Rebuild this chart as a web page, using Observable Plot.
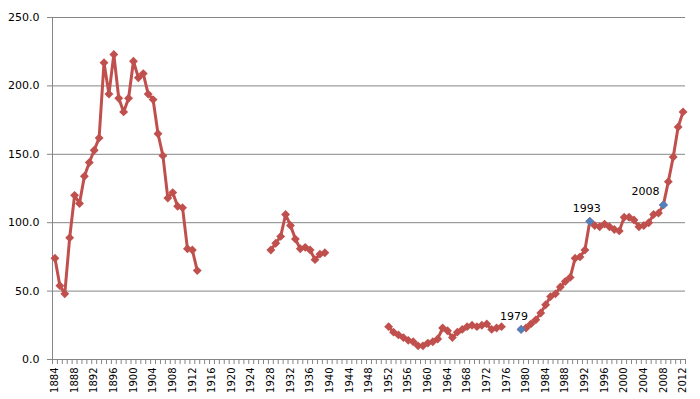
<!DOCTYPE html>
<html><head><meta charset="utf-8">
<script src="https://cdn.jsdelivr.net/npm/d3@7"></script>
<script src="https://cdn.jsdelivr.net/npm/@observablehq/plot@0.6"></script>
<style>body{margin:0;background:#fff} svg{display:block}</style>
</head><body><div id="chart"></div>
<script>
const years = d3.range(1884, 2013);
const values = [
  74, 54, 48, 89, 120, 114, 134, 144, 153, 162,
  217, 194, 223, 191, 181, 191, 218, 206, 209, 194,
  190, 165, 149, 118, 122, 112, 111, 81, 80, 65,
  null, null, null, null, null, null, null, null, null, null, null, null, null, null,
  80, 85, 90, 106, 98, 88, 81, 82, 80, 73, 77, 78,
  null, null, null, null, null, null, null, null, null, null, null, null,
  24, 20, 18, 16, 14, 13, 10, 10, 12, 13, 15, 23,
  21, 16, 20, 22, 24, 25, 24, 25, 26, 22, 23, 24,
  null, null, null,
  22, 23, 26, 29, 34, 40, 46, 48, 53, 57, 60, 74, 75, 80,
  101, 98, 97, 99, 97, 95, 94, 104, 104, 102, 97, 98, 100, 106, 107,
  113, 130, 148, 170, 181
];
const highlightYears = [1979, 1993, 2008];
const tickYears = d3.range(1884, 2013, 4);
const yTicks = [0, 50, 100, 150, 200, 250];

const data = years.map((year, i) => ({year, value: values[i]}));
const hl = data.filter(d => highlightYears.includes(d.year));
const red = "#C0504D", blue = "#4F81BD", grid = "#868686";
const bounds = d3.range(1883.5, 2013, 1);

const label = (yr, dx) => Plot.text(hl.filter(d => d.year === yr), {
  x: "year", y: "value", text: d => String(d.year), dx, dy: -13, fontSize: 11, fill: "black"
});

const chart = Plot.plot({
  width: 700, height: 399,
  marginLeft: 52, marginRight: 15, marginTop: 17, marginBottom: 40,
  style: {fontFamily: "DejaVu Sans", background: "#fff", color: "black"},
  x: {domain: [1883.5, 2012.5], label: null},
  y: {domain: [0, 250], label: null},
  marks: [
    Plot.gridY(yTicks, {stroke: grid, strokeOpacity: 1}),
    Plot.axisY(yTicks, {tickSize: 5, tickPadding: 8, stroke: grid, fontSize: 11, tickFormat: d3.format(".1f")}),
    Plot.ruleX([1883.5], {stroke: grid}),
    Plot.ruleY([0], {stroke: grid}),
    Plot.axisX(bounds, {tickSize: 5, stroke: grid, tickFormat: () => ""}),
    Plot.axisX(tickYears, {tickSize: 0, tickPadding: 8, tickRotate: -90, fontSize: 10, tickFormat: d => String(d)}),
    Plot.line(data, {x: "year", y: "value", stroke: red, strokeWidth: 3}),
    Plot.dot(data, {x: "year", y: "value", symbol: "diamond2", r: 4, fill: red}),
    Plot.dot(hl, {x: "year", y: "value", symbol: "diamond2", r: 4, fill: blue}),
    label(1979, -7),
    label(1993, -3),
    label(2008, -18)
  ]
});
document.getElementById("chart").appendChild(chart);
</script>
</body></html>
